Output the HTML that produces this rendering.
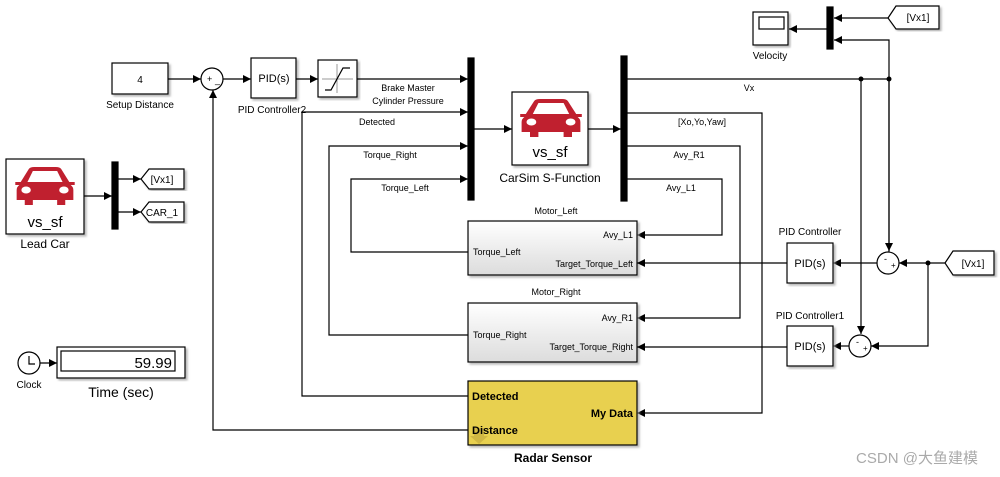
<!DOCTYPE html>
<html><head><meta charset="utf-8"><style>
body{margin:0;background:#fff}
svg{display:block;font-family:"Liberation Sans",Arial,sans-serif}
text{fill:#000}
</style></head><body>
<svg width="1000" height="477" viewBox="0 0 1000 477" xmlns="http://www.w3.org/2000/svg">
<defs>
<marker id="a" markerWidth="8" markerHeight="8" refX="8" refY="4" orient="auto" markerUnits="userSpaceOnUse"><path d="M0,0 L8,4 L0,8 Z" fill="#000"/></marker>
<g id="car">
<path d="M-18,-4 L-12,-17 Q-11,-19 -8,-19 L8,-19 Q11,-19 12,-17 L18,-4 L22,-4 L22,-1 L19,-1 Q21,1 21,4 L21,14 L15,14 L15,19 L9,19 L9,14 L-9,14 L-9,19 L-15,19 L-15,14 L-21,14 L-21,4 Q-21,1 -19,-1 L-22,-1 L-22,-4 Z" fill="#c0202f"/>
<path d="M-13,-4 L-9,-15 L9,-15 L13,-4 Z" fill="#fff"/>
<circle cx="-14" cy="4" r="3.5" fill="#fff"/><circle cx="14" cy="4" r="3.5" fill="#fff"/>
</g>
<filter id="sh"><feDropShadow dx="2" dy="2" stdDeviation="1" flood-color="#999" flood-opacity="0.7"/></filter>
<linearGradient id="g" x1="0" y1="0" x2="0" y2="1"><stop offset="0" stop-color="#fff"/><stop offset="1" stop-color="#dcdcdc"/></linearGradient>
</defs>
<g stroke="#000" stroke-width="1.2" fill="none">
<rect x="6" y="159" width="78" height="75" fill="#fff" filter="url(#sh)"/>
<line x1="84" y1="196" x2="112" y2="196" marker-end="url(#a)"/>
<rect x="112" y="162" width="6" height="67" fill="#000"/>
<line x1="118" y1="179" x2="141" y2="179" marker-end="url(#a)"/>
<line x1="118" y1="212" x2="141" y2="212" marker-end="url(#a)"/>
<path d="M141,179 L149,169 L184,169 L184,189 L149,189 Z" fill="#fff" filter="url(#sh)"/>
<path d="M141,212 L149,202 L184,202 L184,222 L149,222 Z" fill="#fff" filter="url(#sh)"/>
<rect x="112" y="63" width="56" height="31" fill="#fff" filter="url(#sh)"/>
<line x1="168" y1="79" x2="201" y2="79" marker-end="url(#a)"/>
<circle cx="212" cy="79" r="11" fill="#fff"/>
<line x1="223" y1="79" x2="251" y2="79" marker-end="url(#a)"/>
<polyline points="468,430 213,430 213,90" marker-end="url(#a)"/>
<rect x="251" y="58" width="45" height="40" fill="#fff" filter="url(#sh)"/>
<line x1="296" y1="79" x2="318" y2="79" marker-end="url(#a)"/>
<rect x="318" y="60" width="39" height="37" fill="#fff" filter="url(#sh)"/>
<line x1="357" y1="79" x2="468" y2="79" marker-end="url(#a)"/>
<polyline points="468,396 302,396 302,112 468,112" marker-end="url(#a)"/>
<polyline points="468,335 329,335 329,146 468,146" marker-end="url(#a)"/>
<polyline points="468,252 351,252 351,179 468,179" marker-end="url(#a)"/>
<rect x="468" y="58" width="6" height="142" fill="#000"/>
<line x1="474" y1="129" x2="512" y2="129" marker-end="url(#a)"/>
<rect x="512" y="92" width="76" height="73" fill="#fff" filter="url(#sh)"/>
<line x1="588" y1="129" x2="621" y2="129" marker-end="url(#a)"/>
<rect x="621" y="56" width="6" height="145" fill="#000"/>
<line x1="627" y1="79" x2="889" y2="79"/>
<polyline points="627,113 762,113 762,413 637,413" marker-end="url(#a)"/>
<polyline points="627,146 740,146 740,318 637,318" marker-end="url(#a)"/>
<polyline points="627,179 722,179 722,235 637,235" marker-end="url(#a)"/>
<rect x="468" y="221" width="169" height="54" fill="url(#g)" filter="url(#sh)"/>
<rect x="468" y="303" width="169" height="59" fill="url(#g)" filter="url(#sh)"/>
<rect x="468" y="381" width="169" height="64" fill="#e8d050" filter="url(#sh)"/>
<rect x="753" y="12" width="35" height="33" fill="#fff" filter="url(#sh)"/>
<rect x="759" y="17" width="25" height="12" fill="#fff"/>
<rect x="827" y="7" width="6" height="42" fill="#000"/>
<line x1="827" y1="29" x2="789" y2="29" marker-end="url(#a)"/>
<line x1="888" y1="18" x2="834" y2="18" marker-end="url(#a)"/>
<polyline points="889,252 889,40 834,40" marker-end="url(#a)"/>
<path d="M888,18 L896,6 L939,6 L939,29 L896,29 Z" fill="#fff" filter="url(#sh)"/>
<line x1="889" y1="79" x2="889" y2="251" marker-end="url(#a)"/>
<line x1="861" y1="79" x2="861" y2="334" marker-end="url(#a)"/>
<circle cx="888" cy="263" r="11" fill="#fff"/>
<circle cx="860" cy="346" r="11" fill="#fff"/>
<path d="M945,263 L953,251 L994,251 L994,275 L953,275 Z" fill="#fff" filter="url(#sh)"/>
<line x1="945" y1="263" x2="899" y2="263" marker-end="url(#a)"/>
<polyline points="928,263 928,346 871,346" marker-end="url(#a)"/>
<line x1="877" y1="263" x2="833" y2="263" marker-end="url(#a)"/>
<line x1="849" y1="346" x2="833" y2="346" marker-end="url(#a)"/>
<rect x="787" y="243" width="46" height="40" fill="#fff" filter="url(#sh)"/>
<rect x="787" y="326" width="46" height="40" fill="#fff" filter="url(#sh)"/>
<line x1="787" y1="263" x2="637" y2="263" marker-end="url(#a)"/>
<line x1="787" y1="347" x2="637" y2="347" marker-end="url(#a)"/>
<circle cx="29" cy="363" r="11" fill="#fff"/>
<polyline points="29,356 29,364 35,364"/>
<line x1="40" y1="363" x2="57" y2="363" marker-end="url(#a)"/>
<rect x="57" y="347" width="128" height="31" fill="#fff" filter="url(#sh)"/>
<rect x="61" y="351" width="114" height="20" fill="#fff"/>
</g>
<g fill="#000">
<circle cx="861" cy="79" r="2.5"/><circle cx="889" cy="79" r="2.5"/><circle cx="928" cy="263" r="2.5"/>
</g>
<g stroke="#999" stroke-width="1" fill="none"><line x1="322" y1="79" x2="353" y2="79"/><line x1="337" y1="64" x2="337" y2="93"/></g>
<polyline points="325,90 331,90 343,68 350,68" stroke="#000" stroke-width="1.2" fill="none"/>
<use href="#car" transform="translate(45,186) scale(1.35,1.0)"/>
<use href="#car" transform="translate(551,118) scale(1.4,1.0)"/>
<path d="M474,428 L484,428 L484,436 L488,436 L479,444 L470,436 L474,436 Z" fill="#c9b040" opacity="0.8"/>
<g font-size="10">
<text x="207" y="82" font-size="9">+</text><text x="215" y="83" font-size="9">_</text>
<text x="140" y="83" text-anchor="middle">4</text>
<text x="140" y="108" text-anchor="middle">Setup Distance</text>
<text x="274" y="82" text-anchor="middle" font-size="11">PID(s)</text>
<text x="272" y="113" text-anchor="middle">PID Controller2</text>
<text x="408" y="91" text-anchor="middle" font-size="9">Brake Master</text>
<text x="408" y="104" text-anchor="middle" font-size="9">Cylinder Pressure</text>
<text x="377" y="125" text-anchor="middle" font-size="9">Detected</text>
<text x="390" y="158" text-anchor="middle" font-size="9">Torque_Right</text>
<text x="405" y="191" text-anchor="middle" font-size="9">Torque_Left</text>
<text x="550" y="157" text-anchor="middle" font-size="15">vs_sf</text>
<text x="550" y="182" text-anchor="middle" font-size="12">CarSim S-Function</text>
<text x="45" y="227" text-anchor="middle" font-size="15">vs_sf</text>
<text x="45" y="248" text-anchor="middle" font-size="12">Lead Car</text>
<text x="162" y="183" text-anchor="middle">[Vx1]</text>
<text x="162" y="216" text-anchor="middle">CAR_1</text>
<text x="749" y="91" text-anchor="middle" font-size="9">Vx</text>
<text x="702" y="125" text-anchor="middle" font-size="9">[Xo,Yo,Yaw]</text>
<text x="689" y="158" text-anchor="middle" font-size="9">Avy_R1</text>
<text x="681" y="191" text-anchor="middle" font-size="9">Avy_L1</text>
<text x="556" y="214" text-anchor="middle" font-size="9">Motor_Left</text>
<text x="556" y="295" text-anchor="middle" font-size="9">Motor_Right</text>
<text x="633" y="238" text-anchor="end" font-size="9">Avy_L1</text>
<text x="473" y="255" font-size="9">Torque_Left</text>
<text x="633" y="267" text-anchor="end" font-size="9">Target_Torque_Left</text>
<text x="633" y="321" text-anchor="end" font-size="9">Avy_R1</text>
<text x="473" y="338" font-size="9">Torque_Right</text>
<text x="633" y="350" text-anchor="end" font-size="9">Target_Torque_Right</text>
<text x="472" y="400" font-weight="bold" font-size="11">Detected</text>
<text x="633" y="417" text-anchor="end" font-weight="bold" font-size="11">My Data</text>
<text x="472" y="434" font-weight="bold" font-size="11">Distance</text>
<text x="553" y="462" text-anchor="middle" font-weight="bold" font-size="12">Radar Sensor</text>
<text x="770" y="59" text-anchor="middle">Velocity</text>
<text x="918" y="21" text-anchor="middle">[Vx1]</text>
<text x="973" y="267" text-anchor="middle">[Vx1]</text>
<text x="810" y="235" text-anchor="middle">PID Controller</text>
<text x="810" y="319" text-anchor="middle">PID Controller1</text>
<text x="810" y="267" text-anchor="middle" font-size="11">PID(s)</text>
<text x="810" y="350" text-anchor="middle" font-size="11">PID(s)</text>
<text x="884" y="262" font-size="9">-</text><text x="891" y="268" font-size="8">+</text>
<text x="856" y="345" font-size="9">-</text><text x="863" y="351" font-size="8">+</text>
<text x="29" y="388" text-anchor="middle" font-size="10">Clock</text>
<text x="172" y="368" text-anchor="end" font-size="15" fill="#102050">59.99</text>
<text x="121" y="397" text-anchor="middle" font-size="14">Time (sec)</text>
<text x="917" y="463" text-anchor="middle" font-size="15" style="fill:#aaa;font-family:'Liberation Sans','Noto Sans CJK SC',sans-serif">CSDN @大鱼建模</text>
</g>
</svg>
</body></html>
